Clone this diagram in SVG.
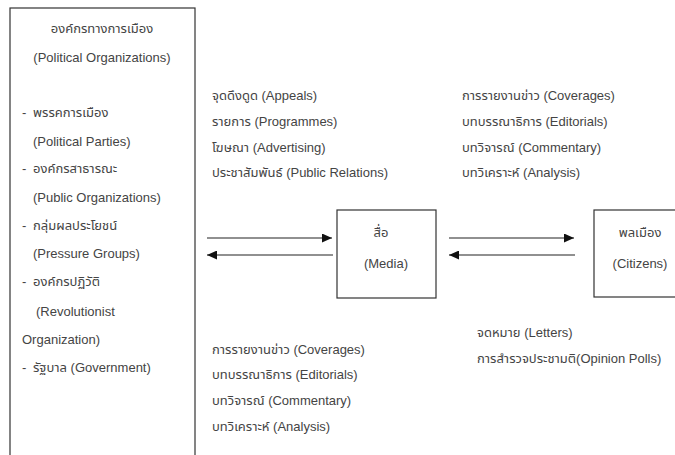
<svg xmlns="http://www.w3.org/2000/svg" width="675" height="455" viewBox="0 0 675 455">
<defs>
<style>
text{font-family:"Liberation Sans","Noto Sans Thai","Noto Sans",sans-serif;font-size:13px;fill:#444}
.box{fill:#fff;stroke:#333;stroke-width:1.2}
.ln{stroke:#222;stroke-width:1.2;fill:none}
.c{text-anchor:middle}
</style>
<marker id="ah" viewBox="0 0 10 10" refX="10" refY="5" markerWidth="10" markerHeight="9" markerUnits="userSpaceOnUse" orient="auto" preserveAspectRatio="none">
<path d="M0,0 L10,5 L0,10 z" fill="#111"/>
</marker>
</defs>
<rect width="675" height="455" fill="#fff"/>
<g id="political">
<rect class="box" x="10" y="8" width="185" height="460"/>
<text class="c" x="102" y="33">องค์กรทางการเมือง</text>
<text class="c" x="102" y="62">(Political Organizations)</text>
<text x="22" y="117">-<tspan x="33">พรรคการเมือง</tspan></text>
<text x="33" y="146">(Political Parties)</text>
<text x="22" y="173">-<tspan x="33">องค์กรสาธารณะ</tspan></text>
<text x="33" y="202">(Public Organizations)</text>
<text x="22" y="230">-<tspan x="33">กลุ่มผลประโยชน์</tspan></text>
<text x="33" y="258">(Pressure Groups)</text>
<text x="22" y="286">-<tspan x="33">องค์กรปฏิวัติ</tspan></text>
<text x="36" y="316">(Revolutionist</text>
<text x="22" y="344">Organization)</text>
<text x="22" y="372">-<tspan x="33">รัฐบาล (Government)</tspan></text>
</g>
<g id="media">
<rect class="box" x="337" y="210" width="99" height="88"/>
<text class="c" x="381" y="237">สื่อ</text>
<text class="c" x="386" y="268">(Media)</text>
</g>
<g id="citizens">
<rect class="box" x="594" y="210" width="100" height="87"/>
<text class="c" x="640" y="237">พลเมือง</text>
<text class="c" x="640" y="268">(Citizens)</text>
</g>
<g id="labels">
<text x="212" y="100">จุดดึงดูด (Appeals)</text>
<text x="212" y="126">รายการ (Programmes)</text>
<text x="212" y="152">โฆษณา (Advertising)</text>
<text x="212" y="177">ประชาสัมพันธ์ (Public Relations)</text>
<text x="462" y="100">การรายงานข่าว (Coverages)</text>
<text x="462" y="126">บทบรรณาธิการ (Editorials)</text>
<text x="462" y="152">บทวิจารณ์ (Commentary)</text>
<text x="462" y="177">บทวิเคราะห์ (Analysis)</text>
<text x="212" y="354">การรายงานข่าว (Coverages)</text>
<text x="212" y="379">บทบรรณาธิการ (Editorials)</text>
<text x="212" y="405">บทวิจารณ์ (Commentary)</text>
<text x="212" y="431">บทวิเคราะห์ (Analysis)</text>
<text x="477" y="337">จดหมาย (Letters)</text>
<text x="477" y="363">การสำรวจประชามติ(Opinion Polls)</text>
</g>
<g id="connectors">
<line class="ln" x1="207" y1="238" x2="332" y2="238" marker-end="url(#ah)"/>
<line class="ln" x1="333" y1="255" x2="207" y2="255" marker-end="url(#ah)"/>
<line class="ln" x1="449" y1="238" x2="574" y2="238" marker-end="url(#ah)"/>
<line class="ln" x1="575" y1="255" x2="449" y2="255" marker-end="url(#ah)"/>
</g>
</svg>
